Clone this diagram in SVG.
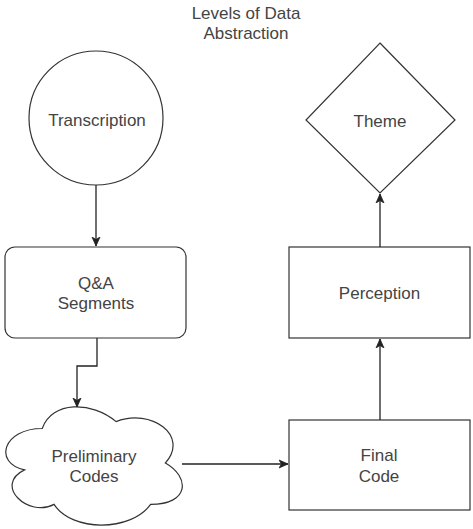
<svg xmlns="http://www.w3.org/2000/svg" width="473" height="529" viewBox="0 0 473 529">
  <style>
    .shape { fill: #ffffff; stroke: #333333; stroke-width: 1.2; }
    .label { font-family: "Liberation Sans", Arial, sans-serif; font-size: 17px; fill: #444444; text-anchor: middle; }
    .edge { fill: none; stroke: #222222; stroke-width: 1.3; }
  </style>
  <defs>
    <marker id="arrow" viewBox="0 0 10 10" refX="9" refY="5" markerWidth="10" markerHeight="10" markerUnits="userSpaceOnUse" orient="auto">
      <path d="M0,1 L9,5 L0,9 L2.5,5 Z" fill="#222222" stroke="#222222" stroke-width="0.8"/>
    </marker>
  </defs>
  <rect width="473" height="529" fill="#ffffff"/>

  <g id="title">
    <text class="label" x="246" y="19">Levels of Data</text>
    <text class="label" x="246" y="39">Abstraction</text>
  </g>

  <g id="transcription">
    <circle class="shape" cx="96" cy="118" r="67"/>
    <text class="label" x="97" y="126">Transcription</text>
  </g>

  <g id="qa-segments">
    <rect class="shape" x="5" y="247" width="181" height="91" rx="10" ry="10"/>
    <text class="label" x="96" y="289">Q&amp;A</text>
    <text class="label" x="96" y="309">Segments</text>
  </g>

  <g id="preliminary-codes">
    <path class="shape" transform="translate(-7,394)" d="M49.25,34.5 C9.85,34.5 0,69 31.52,75.9 C0,91.08 35.46,124.2 61.07,110.4 C78.8,138 137.9,138 157.6,110.4 C197,110.4 197,82.8 172.38,69 C197,41.4 157.6,13.8 123.13,27.6 C98.5,6.9 59.1,6.9 49.25,34.5 Z"/>
    <text class="label" x="94" y="462">Preliminary</text>
    <text class="label" x="94" y="482">Codes</text>
  </g>

  <g id="final-code">
    <rect class="shape" x="289" y="420" width="181" height="90"/>
    <text class="label" x="379" y="461">Final</text>
    <text class="label" x="379" y="482">Code</text>
  </g>

  <g id="perception">
    <rect class="shape" x="289" y="247" width="181" height="91"/>
    <text class="label" x="379.5" y="299">Perception</text>
  </g>

  <g id="theme">
    <polygon class="shape" points="380,43 455,120 380,193 306,120"/>
    <text class="label" x="380" y="127">Theme</text>
  </g>

  <g id="connectors">
    <path class="edge" d="M96,185 L96,246" marker-end="url(#arrow)"/>
    <path class="edge" d="M97,338 L97,366 L77,366 L77,407" marker-end="url(#arrow)"/>
    <path class="edge" d="M182,464 L288,464" marker-end="url(#arrow)"/>
    <path class="edge" d="M380,420 L380,339" marker-end="url(#arrow)"/>
    <path class="edge" d="M380,247 L380,194" marker-end="url(#arrow)"/>
  </g>
</svg>
